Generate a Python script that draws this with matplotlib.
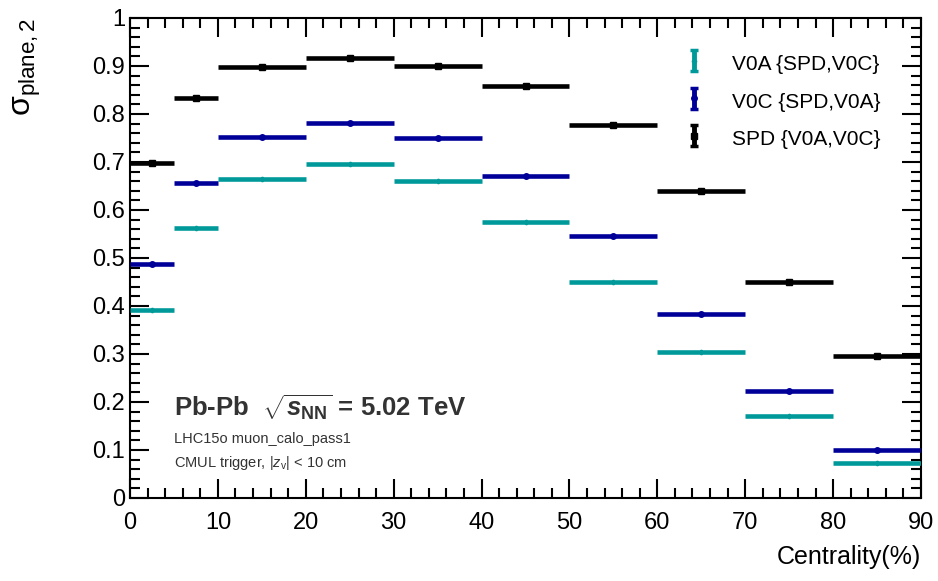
import matplotlib.pyplot as plt
import numpy as np
from matplotlib.ticker import MultipleLocator

plt.rcParams['font.family'] = ['Liberation Sans', 'DejaVu Sans']
plt.rcParams['mathtext.fontset'] = 'custom'
plt.rcParams['mathtext.rm'] = 'Liberation Sans'
plt.rcParams['mathtext.it'] = 'Liberation Sans:italic'
plt.rcParams['mathtext.bf'] = 'Liberation Sans:bold'
plt.rcParams['mathtext.bfit'] = 'Liberation Sans:bold:italic'

# centrality bins
bin_lo = [0, 5, 10, 20, 30, 40, 50, 60, 70, 80]
bin_hi = [5, 10, 20, 30, 40, 50, 60, 70, 80, 90]

# resolution values
v0a = [0.391, 0.563, 0.665, 0.696, 0.660, 0.575, 0.451, 0.304, 0.170, 0.072]
v0c = [0.487, 0.657, 0.753, 0.781, 0.749, 0.670, 0.546, 0.384, 0.222, 0.100]
spd = [0.698, 0.833, 0.898, 0.916, 0.901, 0.859, 0.778, 0.640, 0.449, 0.296]

labels = ["V0A {SPD,V0C}", "V0C {SPD,V0A}", "SPD {V0A,V0C}"]
colors = ["#009999", "#000099", "black"]
markers = ["P", "o", "s"]
msizes = [3, 4, 5]

lo = np.array(bin_lo)
hi = np.array(bin_hi)
xc = (lo + hi) / 2
xe = (hi - lo) / 2

fig = plt.figure(figsize=(9.38, 5.81), dpi=100)
ax = fig.add_axes([130 / 938, 83 / 581, 791 / 938, 480 / 581])

handles = []
for vals, c, m, ms, lab in zip([v0a, v0c, spd], colors, markers, msizes, labels):
    ax.errorbar(xc, vals, xerr=xe, yerr=0.002, fmt=m, color=c, ms=ms,
                elinewidth=3.3, capsize=0, zorder=3)
    h = ax.errorbar([np.nan], [np.nan], yerr=[1], fmt=m, color=c, ms=ms,
                    elinewidth=3.5, capsize=3, capthick=2.5)
    handles.append(h)

ax.set_xlim(0, 90)
ax.set_ylim(0, 1)
ax.xaxis.set_major_locator(MultipleLocator(10))
ax.xaxis.set_minor_locator(MultipleLocator(2))
ax.yaxis.set_major_locator(MultipleLocator(0.1))
ax.yaxis.set_minor_locator(MultipleLocator(0.02))
ax.set_yticks(np.arange(0, 1.01, 0.1))
ax.set_yticklabels(["0", "0.1", "0.2", "0.3", "0.4", "0.5", "0.6", "0.7", "0.8", "0.9", "1"])
ax.tick_params(which="both", direction="in", top=True, right=True, width=1.5, labelsize=17)
ax.tick_params(which="major", length=14)
ax.tick_params(which="minor", length=7)
ax.tick_params(axis="x", pad=10)
for s in ax.spines.values():
    s.set_linewidth(1.5)

ax.set_xlabel("Centrality(%)", fontsize=18, loc="right", labelpad=8)
ax.set_ylabel(r"σ$_{\mathrm{plane,2}}$", fontsize=23, loc="top")
ax.yaxis.set_label_coords(-0.11, 1.0)

leg = ax.legend(handles, labels, loc="upper right", bbox_to_anchor=(0.972, 0.97),
                frameon=False, fontsize=15, handlelength=1.0, handleheight=1.4,
                handletextpad=1.3, labelspacing=0.65)

ax.text(5.0, 0.17, r"Pb-Pb  $\sqrt{\mathbfit{s}_{\mathbf{NN}}}$ = 5.02 TeV",
        fontsize=18.5, fontweight="bold", color="#333333")
ax.text(5.0, 0.115, "LHC15o muon_calo_pass1", fontsize=10.5, color="#333333")
ax.text(5.0, 0.065, r"CMUL trigger, $|z_{\mathrm{v}}|$ < 10 cm", fontsize=10.5, color="#333333")

fig.savefig("out.png", dpi=100)
